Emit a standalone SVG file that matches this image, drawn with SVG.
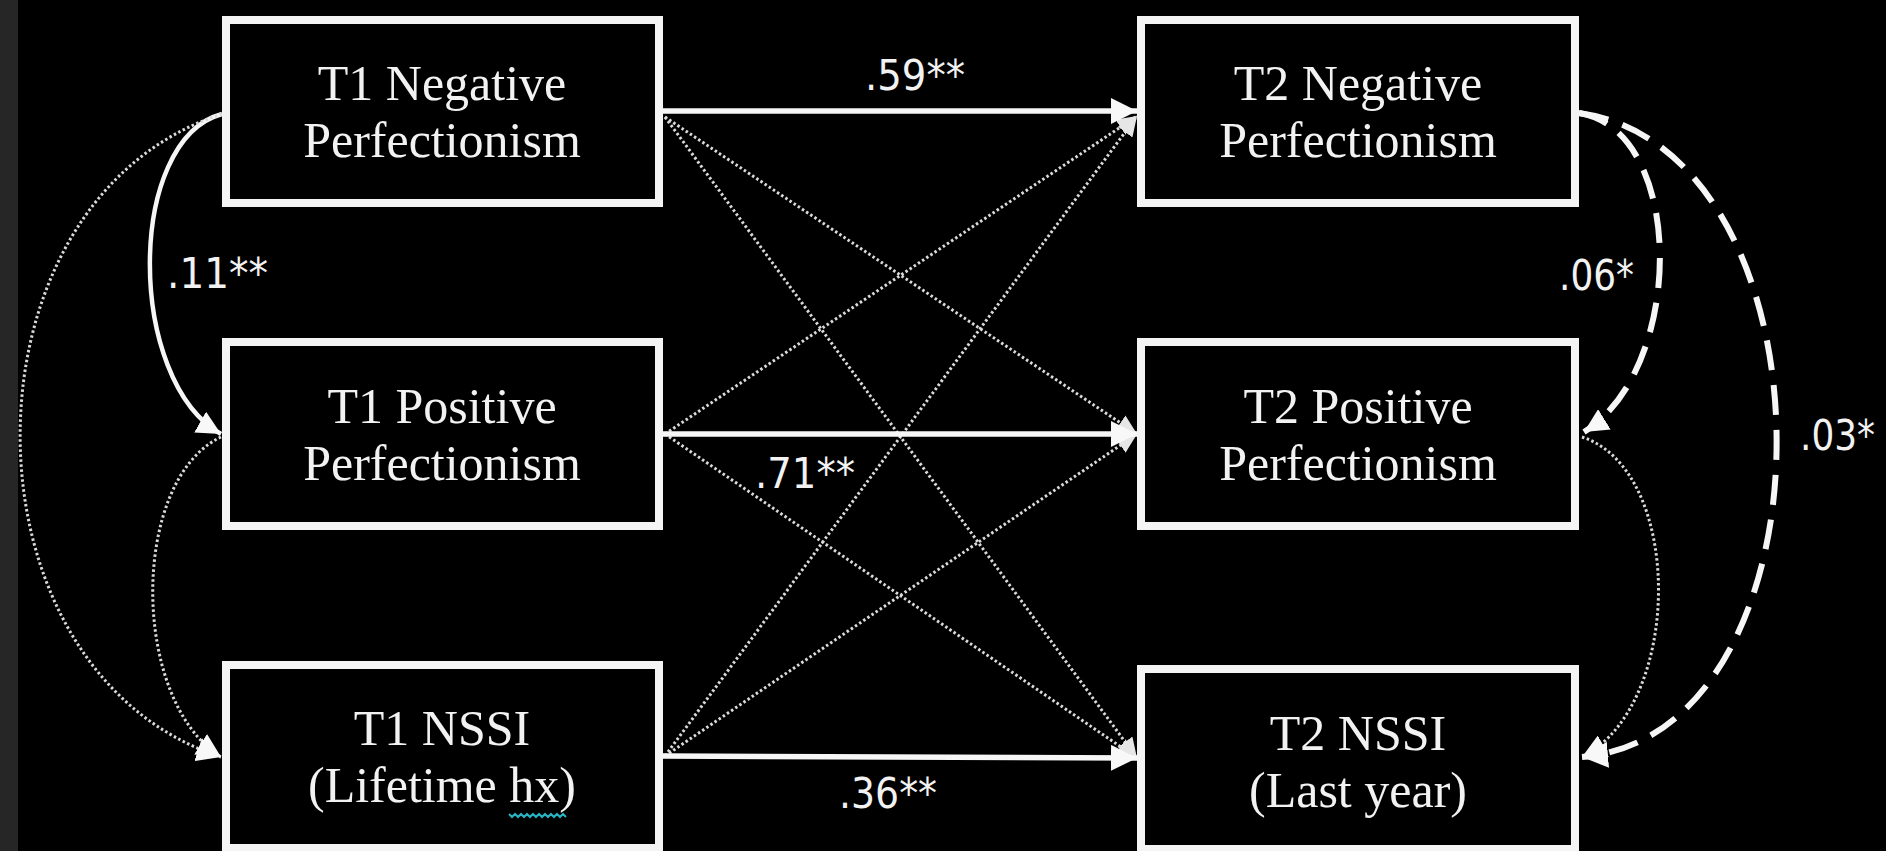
<svg xmlns="http://www.w3.org/2000/svg" width="1886" height="851" viewBox="0 0 1886 851">
  <style>
    .box { fill: #000; stroke: #f4f4f4; stroke-width: 8; }
    .lbl { font-family: "Liberation Serif", "Times New Roman", serif; font-size: 50px; fill: #f2f2f2; text-anchor: middle; }
    .coef { font-family: "DejaVu Sans", "Liberation Sans", sans-serif; font-size: 42px; fill: #f2f2f2; }
    .solid { fill: none; stroke: #f6f6f6; stroke-width: 5.5; }
    .curve { fill: none; stroke: #f6f6f6; stroke-width: 4.5; }
    .dot { fill: none; stroke: #dadada; stroke-width: 3; stroke-dasharray: 2.5 2.5; }
    .dash { fill: none; stroke: #f6f6f6; stroke-width: 6; stroke-dasharray: 30 15; }
  </style>
  <defs>
    <marker id="arrowBig" viewBox="0 0 10 10" refX="10" refY="5" markerUnits="userSpaceOnUse" markerWidth="26" markerHeight="26" preserveAspectRatio="none" orient="auto">
      <path d="M0,0 L10,5 L0,10 z" fill="#f8f8f8" stroke="none"/>
    </marker>
    <marker id="arrowMed" viewBox="0 0 10 10" refX="10" refY="5" markerUnits="userSpaceOnUse" markerWidth="24" markerHeight="24" preserveAspectRatio="none" orient="auto">
      <path d="M0,0 L10,5 L0,10 z" fill="#f8f8f8" stroke="none"/>
    </marker>
    <marker id="arrowDot" viewBox="0 0 10 10" refX="10" refY="5" markerUnits="userSpaceOnUse" markerWidth="20" markerHeight="18" preserveAspectRatio="none" orient="auto">
      <path d="M0,0 L10,5 L0,10 z" fill="#e6e6e6" stroke="none"/>
    </marker>
  </defs>

  <rect x="0" y="0" width="1886" height="851" fill="#000"/>
  <rect x="0" y="0" width="18" height="851" fill="#262626"/>

  <g id="connectors">
    <!-- dotted cross paths -->
    <path class="dot" d="M665 117 L1137 434" marker-end="url(#arrowDot)"/>
    <path class="dot" d="M665 117 L1137 758" marker-end="url(#arrowDot)"/>
    <path class="dot" d="M665 434 L1137 116" marker-end="url(#arrowDot)"/>
    <path class="dot" d="M665 434 L1137 758" marker-end="url(#arrowDot)"/>
    <path class="dot" d="M665 756 L1137 116" marker-end="url(#arrowDot)"/>
    <path class="dot" d="M665 756 L1137 434" marker-end="url(#arrowDot)"/>
    <!-- solid stability paths -->
    <path class="solid" d="M663 111 L1137 111" marker-end="url(#arrowBig)"/>
    <path class="solid" d="M663 434 L1137 434" marker-end="url(#arrowBig)"/>
    <path class="solid" d="M663 756 L1137 758" marker-end="url(#arrowBig)"/>
    <!-- left covariances -->
    <path class="curve" d="M222 114 C126 140 126 380 221 434" marker-end="url(#arrowMed)"/>
    <path class="dot" d="M222 114 C-47 200 -47 670 221 757" marker-end="url(#arrowMed)"/>
    <path class="dot" d="M221 437 C130 480 130 700 221 757" marker-end="url(#arrowMed)"/>
    <!-- right covariances -->
    <path class="dot" d="M1582 437 C1684 470 1684 705 1582 757" marker-end="url(#arrowMed)"/>
    <path class="dash" d="M1579 113 C1686 130 1686 369 1584 432" marker-end="url(#arrowMed)"/>
    <path class="dash" d="M1579 113 C1842 150 1842 735 1582 757" marker-end="url(#arrowBig)"/>
    <!-- coefficients -->
    <text class="coef" x="865" y="90" textLength="100" lengthAdjust="spacingAndGlyphs">.59**</text>
    <text class="coef" x="755" y="488" textLength="100" lengthAdjust="spacingAndGlyphs">.71**</text>
    <text class="coef" x="839" y="808" textLength="98" lengthAdjust="spacingAndGlyphs">.36**</text>
    <text class="coef" x="167" y="288" textLength="101" lengthAdjust="spacingAndGlyphs">.11**</text>
    <text class="coef" x="1559" y="290" textLength="75" lengthAdjust="spacingAndGlyphs">.06*</text>
    <text class="coef" x="1800" y="450" font-size="37" textLength="75" lengthAdjust="spacingAndGlyphs">.03*</text>
  </g>

  <g id="t1-negative">
    <rect class="box" x="226" y="20" width="433" height="183"/>
    <text class="lbl" x="442" y="100">T1 Negative</text>
    <text class="lbl" x="442" y="157">Perfectionism</text>
  </g>
  <g id="t1-positive">
    <rect class="box" x="226" y="342" width="433" height="184"/>
    <text class="lbl" x="442" y="423">T1 Positive</text>
    <text class="lbl" x="442" y="480">Perfectionism</text>
  </g>
  <g id="t1-nssi">
    <rect class="box" x="226" y="665" width="433" height="183"/>
    <text class="lbl" x="442" y="745">T1 NSSI</text>
    <text class="lbl" x="442" y="802">(Lifetime hx)</text>
    <path d="M509 814 l3 3 l3 -3 l3 3 l3 -3 l3 3 l3 -3 l3 3 l3 -3 l3 3 l3 -3 l3 3 l3 -3 l3 3 l3 -3 l3 3 l3 -3 l3 3 l3 -3 l3 3" fill="none" stroke="#27b3c2" stroke-width="2"/>
  </g>
  <g id="t2-negative">
    <rect class="box" x="1141" y="20" width="434" height="183"/>
    <text class="lbl" x="1358" y="100">T2 Negative</text>
    <text class="lbl" x="1358" y="157">Perfectionism</text>
  </g>
  <g id="t2-positive">
    <rect class="box" x="1141" y="342" width="434" height="184"/>
    <text class="lbl" x="1358" y="423">T2 Positive</text>
    <text class="lbl" x="1358" y="480">Perfectionism</text>
  </g>
  <g id="t2-nssi">
    <rect class="box" x="1141" y="669" width="434" height="180"/>
    <text class="lbl" x="1358" y="750">T2 NSSI</text>
    <text class="lbl" x="1358" y="807">(Last year)</text>
  </g>
</svg>
